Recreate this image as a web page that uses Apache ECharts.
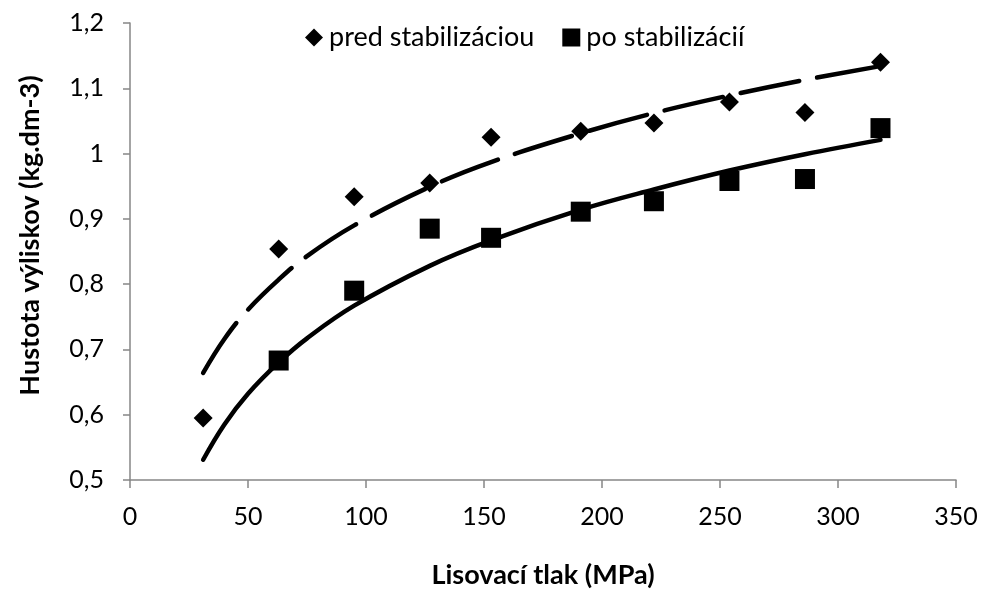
<!DOCTYPE html>
<html>
<head>
<meta charset="utf-8">
<script src="https://cdn.jsdelivr.net/npm/echarts@6/dist/echarts.min.js"></script>
<style>
  html, body { margin: 0; padding: 0; background: #fff; }
  #chart { width: 981px; height: 593px; }
</style>
</head>
<body>
<div id="chart"></div>
<script>
// measured points
const pressure = [31, 63, 95, 127, 153, 191, 222, 254, 286, 318];
const beforeStab = [0.595, 0.854, 0.934, 0.955, 1.025, 1.034, 1.047, 1.079, 1.063, 1.140];
const afterX = [63, 95, 127, 153, 191, 222, 254, 286, 318];
const afterStab = [0.683, 0.790, 0.885, 0.871, 0.911, 0.927, 0.958, 0.961, 1.039];

// trend curves
const trendX = [31, 40, 50, 63, 75, 95, 127, 153, 191, 222, 254, 286, 318];
const trendBefore = [0.664, 0.716, 0.761, 0.807, 0.843, 0.890, 0.949, 0.987, 1.031, 1.062, 1.089, 1.113, 1.134];
const trendAfter = [0.531, 0.585, 0.632, 0.680, 0.717, 0.767, 0.828, 0.867, 0.914, 0.945, 0.974, 0.999, 1.021];

const FONT = "Lato";
const AXIS_COLOR = "#868686";

const pairs = (xs, ys) => xs.map((x, i) => [x, ys[i]]);

const chart = echarts.init(document.getElementById("chart"));

chart.setOption({
  backgroundColor: "#fff",
  animation: false,
  textStyle: { fontFamily: FONT },
  grid: { left: 130, right: 25, top: 23, bottom: 113, outerBoundsMode: "none" },
  legend: {
    top: 19,
    left: 300,
    itemGap: 28,
    itemWidth: 18,
    itemHeight: 18,
    data: [
      { name: "pred stabilizáciou", icon: "diamond" },
      { name: "po stabilizácií", icon: "rect" },
    ],
    textStyle: { fontFamily: FONT, fontSize: 27, color: "#000", padding: [0, 0, 0, 1] },
  },
  xAxis: {
    type: "value",
    min: 0,
    max: 350,
    interval: 50,
    name: "Lisovací tlak (MPa)",
    nameLocation: "middle",
    nameGap: 82,
    nameTextStyle: { fontFamily: FONT, fontSize: 27, fontWeight: "bold", color: "#000" },
    axisLine: { show: true, lineStyle: { color: AXIS_COLOR, width: 1.5 } },
    axisTick: { show: true, length: 8, lineStyle: { color: AXIS_COLOR, width: 1.5 } },
    axisLabel: { fontFamily: FONT, fontSize: 25, color: "#000", margin: 24 },
    splitLine: { show: false },
  },
  yAxis: {
    type: "value",
    min: 0.5,
    max: 1.2,
    interval: 0.1,
    name: "Hustota výliskov (kg.dm-3)",
    nameLocation: "middle",
    nameGap: 86,
    nameTextStyle: {
      fontFamily: FONT, fontSize: 27, fontWeight: "bold", color: "#000",
      padding: [0, 0, 0, 32],
    },
    axisLine: { show: true, lineStyle: { color: AXIS_COLOR, width: 1.5 } },
    axisTick: { show: true, length: 7, lineStyle: { color: AXIS_COLOR, width: 1.5 } },
    axisLabel: {
      fontFamily: FONT,
      fontSize: 25,
      color: "#000",
      margin: 26,
      formatter: (v) => String(Math.round(v * 10) / 10).replace(".", ","),
    },
    splitLine: { show: false },
  },
  series: [
    {
      name: "pred stabilizáciou",
      type: "scatter",
      symbol: "diamond",
      symbolSize: 19,
      itemStyle: { color: "#000", opacity: 1 },
      data: pairs(pressure, beforeStab),
      z: 3,
    },
    {
      name: "po stabilizácií",
      type: "scatter",
      symbol: "rect",
      symbolSize: 20,
      itemStyle: { color: "#000", opacity: 1 },
      data: pairs(afterX, afterStab),
      z: 3,
    },
    {
      name: "trend pred",
      type: "line",
      smooth: 0.4,
      symbol: "none",
      lineStyle: { color: "#000", width: 4.5, type: [60, 18], cap: "round" },
      data: pairs(trendX, trendBefore),
      z: 4,
    },
    {
      name: "trend po",
      type: "line",
      smooth: 0.4,
      symbol: "none",
      lineStyle: { color: "#000", width: 4.5, cap: "round" },
      data: pairs(trendX, trendAfter),
      z: 4,
    },
  ],
});
</script>
</body>
</html>
